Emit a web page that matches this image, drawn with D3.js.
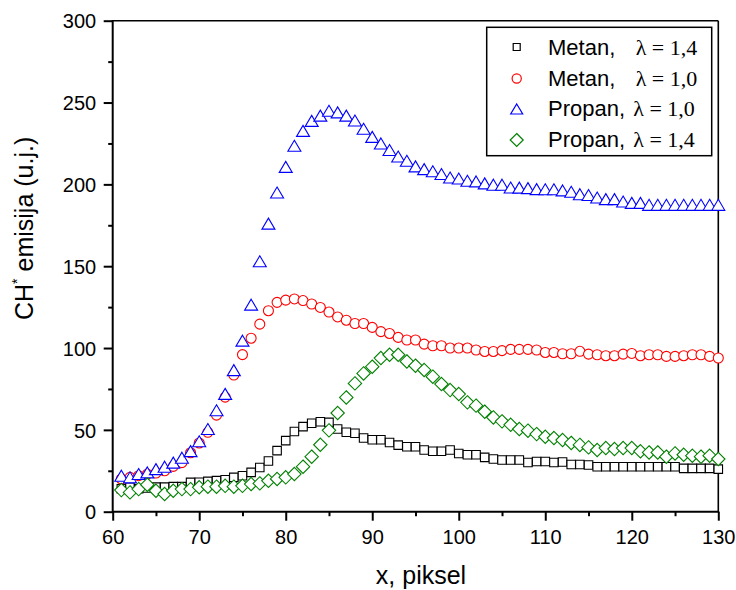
<!DOCTYPE html>
<html>
<head>
<meta charset="utf-8">
<script src="https://cdn.jsdelivr.net/npm/d3@7"></script>
<style>
  html, body { margin: 0; padding: 0; background: #fff; }
  svg { display: block; }
</style>
</head>
<body>
<svg id="chart" width="736" height="590"></svg>
<script>
// ---------------- DATA ----------------
const xPix = [61,62,63,64,65,66,67,68,69,70,71,72,73,74,75,76,77,78,79,80,
  81,82,83,84,85,86,87,88,89,90,91,92,93,94,95,96,97,98,99,100,
  101,102,103,104,105,106,107,108,109,110,111,112,113,114,115,116,117,118,119,120,
  121,122,123,124,125,126,127,128,129,130];

const metan14 = [14,15,14,14.5,15,15,15.3,15.3,17.9,18,18.5,19,19.5,21,22,24,27,31,37.3,43.4,
  49,52,54,55,54.6,50.5,48.5,47.9,45,44,44,42.3,40.7,39.7,39.7,37.7,36.9,36.9,37.7,35.6,
  34.8,34.8,33.2,32.2,31.6,31.6,31.6,30.1,30.7,30.7,30.1,30.4,28.8,28.8,28.5,27.5,27.5,27.5,27.5,27.5,
  27.5,27.5,27.5,27.5,27.5,26.5,26.5,26.5,26.5,26];

const metan10 = [20,21,22,23,23.6,25,27.7,30,36,42,48.5,59,70,83.5,96,106,114.6,122.8,127.9,129.3,
  130,129,126.9,124.8,122,119,117,115,115,112.6,110,108.9,106.5,104.9,104.9,102.4,101.4,101.4,100,100,
  100,98.8,97.9,97.9,98.4,99.2,99.2,99.2,98.8,97.3,97.3,96.5,96.5,98,96.3,95.9,95.3,95.3,96.3,96.7,
  95.3,95.9,95.9,94.9,94.9,95.3,95.9,95.9,94.9,93.9];

const propan10 = [22,21,23,24,26,27.5,30,33,37,43,50.5,62,72,86.5,104.5,126.5,153,176,195,210.7,
  223.6,232.7,238.8,242,245,244,242,239,234,229,225,221,217,214.4,211,209.3,208,206.3,204.2,203.6,
  202.2,201.8,200.6,199.8,199.8,198.1,198,197.7,197.1,197,197,196.3,195.5,194,193.5,192,191,191,189.5,188.7,
  188.7,187.5,187.5,187.5,187.5,187.5,187.5,187.5,187.5,187.5];

const propan14 = [13.2,11.8,13.8,16.5,12.8,10.8,12.8,13.8,13.8,14.9,15.3,15.3,15.8,15.3,15.8,16.9,17.3,18.9,20,21,
  23,27.5,33.6,40.9,49.7,60.3,69.8,78.4,84.5,88.6,93.9,95.9,95.9,91.8,89.2,86.6,82.5,78,74.3,71.9,
  66.8,64.8,61.1,57.6,55.2,53.1,50.5,49.5,47.4,45.8,45,43.8,42,40.8,39.3,37.7,38.9,38.3,38.9,38.9,
  36.9,36.2,36.2,33.6,35.6,34.8,34.2,33.6,34.2,32.2];

const seriesNames = ["Metan,", "Metan,", "Propan,", "Propan,"];
const seriesLambda = ["λ = 1,4", "λ = 1,0", "λ = 1,0", "λ = 1,4"];
const xTicks = [60,70,80,90,100,110,120,130];
const yTicks = [0,50,100,150,200,250,300];
const xMinor = [65,75,85,95,105,115,125];
const yMinor = [25,75,125,175,225,275];
const xTitle = "x, piksel";
const yTitleParts = ["CH", "*", " emisija (u.j.)"];

// ---------------- LAYOUT ----------------
const svg = d3.select("#chart");
const L = 112.7, R = 718.3, T = 20.7, B = 511.7;
const x = d3.scaleLinear().domain([60, 130]).range([L, R]);
const y = d3.scaleLinear().domain([0, 300]).range([B, T]);
const SANS = "'Liberation Sans', Arial, sans-serif";
const SERIF = "'Liberation Serif', 'Times New Roman', serif";

const styles = [
  {shape: "square", color: "#000000"},
  {shape: "circle", color: "#ff0000"},
  {shape: "triangle", color: "#0000ff"},
  {shape: "diamond", color: "#008000"}
];

function markerPath(shape, s) {
  const p = d3.path();
  if (shape === "square") {
    const h = s.sq / 2;
    p.rect(-h, -h, 2 * h, 2 * h);
  } else if (shape === "circle") {
    p.arc(0, 0, s.r, 0, 2 * Math.PI);
    p.closePath();
  } else if (shape === "triangle") {
    const w = s.tw / 2, h = s.th / 2;
    p.moveTo(0, -h); p.lineTo(w, h); p.lineTo(-w, h); p.closePath();
  } else {
    const w = s.dw / 2, h = s.dh / 2;
    p.moveTo(0, -h); p.lineTo(w, 0); p.lineTo(0, h); p.lineTo(-w, 0); p.closePath();
  }
  return p.toString();
}
const plotSize = {sq: 8.5, r: 5, tw: 13, th: 11, dw: 13.4, dh: 13.4};
const legSize = {sq: 7, r: 4.6, tw: 12, th: 10, dw: 13, dh: 13};

// ---------------- AXES ----------------
const xAxis = d3.axisBottom(x).tickValues(xTicks).tickSize(9).tickPadding(5).tickFormat(d3.format("d"));
const xAxisMinor = d3.axisBottom(x).tickValues(xMinor).tickSize(4.5).tickFormat("");
const yAxis = d3.axisLeft(y).tickValues(yTicks).tickSize(9).tickPadding(7).tickFormat(d3.format("d"));
const yAxisMinor = d3.axisLeft(y).tickValues(yMinor).tickSize(4.5).tickFormat("");

function styleAxis(g) {
  g.select(".domain").remove();
  g.selectAll(".tick line").attr("stroke", "#000").attr("stroke-width", 2);
  g.selectAll(".tick text").attr("fill", "#000").attr("font-family", SANS).attr("font-size", 20);
}

// frame (top/right)
svg.append("line").attr("x1", L).attr("x2", R).attr("y1", T).attr("y2", T)
  .attr("stroke", "#000").attr("stroke-width", 1.6);
svg.append("line").attr("x1", R).attr("x2", R).attr("y1", T).attr("y2", B)
  .attr("stroke", "#000").attr("stroke-width", 1.6);

// ---------------- DATA MARKS ----------------
const allSeries = [metan14, metan10, propan10, propan14];
allSeries.forEach((vals, i) => {
  const st = styles[i];
  svg.append("g").selectAll("path")
    .data(xPix.map((xv, j) => ({x: xv, v: vals[j]})))
    .join("path")
    .attr("d", markerPath(st.shape, plotSize))
    .attr("transform", d => `translate(${x(d.x)},${y(d.v)})`)
    .attr("fill", "#fff")
    .attr("stroke", st.color)
    .attr("stroke-width", 1.1);
});

// axes drawn on top
svg.append("g").attr("transform", `translate(0,${B})`).call(xAxisMinor).call(styleAxis);
const gx = svg.append("g").attr("transform", `translate(0,${B})`).call(xAxis).call(styleAxis);
gx.selectAll(".tick text").attr("dy", null).attr("y", 32.5);
svg.append("g").attr("transform", `translate(${L},0)`).call(yAxisMinor).call(styleAxis);
const gy = svg.append("g").attr("transform", `translate(${L},0)`).call(yAxis).call(styleAxis);
gy.selectAll(".tick text").attr("dy", null).attr("y", 7.2).attr("x", -16.5);

svg.append("line").attr("x1", L).attr("x2", R + 0.8).attr("y1", B).attr("y2", B)
  .attr("stroke", "#000").attr("stroke-width", 2);
svg.append("line").attr("x1", L).attr("x2", L).attr("y1", T - 0.8).attr("y2", B + 1)
  .attr("stroke", "#000").attr("stroke-width", 2);

// ---------------- TITLES ----------------
svg.append("text").attr("x", 421).attr("y", 584).attr("text-anchor", "middle")
  .attr("font-family", SANS).attr("font-size", 25).attr("fill", "#000").text(xTitle);

const yt = svg.append("text").attr("transform", "translate(33,320) rotate(-90)")
  .attr("font-family", SANS).attr("font-size", 25).attr("fill", "#000");
yt.append("tspan").text(yTitleParts[0]);
yt.append("tspan").attr("font-size", 14).attr("dy", -11).text(yTitleParts[1]);
yt.append("tspan").attr("dy", 11).text(yTitleParts[2]);

// ---------------- LEGEND ----------------
const lg = svg.append("g");
lg.append("rect").attr("x", 486.7).attr("y", 27.3).attr("width", 225).attr("height", 128.4)
  .attr("fill", "#fff").attr("stroke", "#000").attr("stroke-width", 1.5);
const rowY = [47, 78.5, 109, 140];
const baseY = [55, 85.7, 116, 147.3];
const lamX = [635.7, 635.7, 633.3, 633.3];
styles.forEach((st, i) => {
  lg.append("path").attr("d", markerPath(st.shape, legSize))
    .attr("transform", `translate(516.7,${rowY[i]})`)
    .attr("fill", "#fff").attr("stroke", st.color).attr("stroke-width", 1.2);
  lg.append("text").attr("x", 548).attr("y", baseY[i])
    .attr("font-family", SANS).attr("font-size", 22).attr("fill", "#000").text(seriesNames[i]);
  lg.append("text").attr("x", lamX[i]).attr("y", baseY[i])
    .attr("font-family", SERIF).attr("font-size", 22).attr("fill", "#000").text(seriesLambda[i]);
});
</script>
</body>
</html>
